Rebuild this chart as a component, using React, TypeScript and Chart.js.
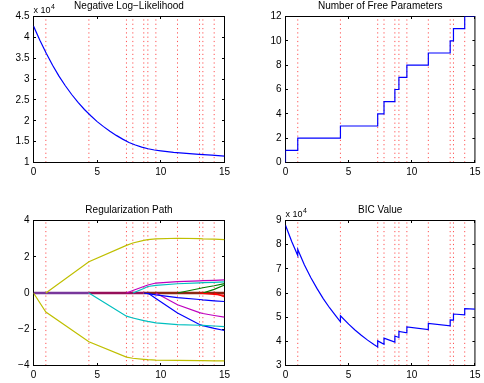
import React, { useEffect, useRef } from "react";
import { Chart, registerables } from "chart.js";

Chart.register(...registerables);

// ---------------- data ----------------
const breakpoints = [0, 0.97, 4.35, 7.3, 7.8, 8.66, 8.98, 9.61, 11.31, 13.04, 13.3, 14.19];
const xTicks = [0, 5, 10, 15];

// Negative log-likelihood
const nllX = [0, 0.5, 1, 1.5, 2, 2.5, 3, 3.5, 4, 4.5, 5, 5.5, 6, 6.5, 7, 7.5, 8, 8.5, 9, 9.5, 10, 11, 12, 13, 14, 15];
const nllY = [42700, 39300, 36200, 33300, 30700, 28400, 26300, 24400, 22700, 21200, 19800, 18600, 17500, 16500, 15600, 14800, 14200, 13700, 13300, 13000, 12800, 12450, 12200, 11950, 11750, 11550];
const nllTicks = [10000, 15000, 20000, 25000, 30000, 35000, 40000, 45000];

// Number of free parameters (value from each breakpoint on)
const paramX = [0, 0, 0.97, 4.35, 7.3, 7.8, 8.66, 8.98, 9.61, 11.31, 13.04, 13.3, 14.19, 15];
const paramY = [0, 1, 2, 3, 4, 5, 6, 7, 8, 9, 10, 11, 12, 12];
const paramTicks = [0, 2, 4, 6, 8, 10, 12];

// Regularization path (coefficients at each knot)
const pathX = [0, 0.97, 4.35, 7.3, 7.8, 8.66, 8.98, 9.61, 11.31, 13.04, 13.3, 14.19, 15];
const yellowLow = [0, -1.05, -2.69, -3.54, -3.6, -3.66, -3.68, -3.7, -3.72, -3.73, -3.73, -3.74, -3.74];
const yellowHigh = [0, 0, 1.72, 2.63, 2.76, 2.9, 2.94, 2.99, 3.02, 3.0, 2.99, 2.97, 2.94];
const cyanLow = [0, 0, 0, -1.28, -1.38, -1.52, -1.57, -1.65, -1.74, -1.78, -1.79, -1.82, -1.85];
const magentaHigh = [0, 0, 0, 0, 0.14, 0.36, 0.44, 0.55, 0.63, 0.67, 0.68, 0.7, 0.72];
const cyanHigh = [0, 0, 0, 0, 0, 0.25, 0.36, 0.42, 0.51, 0.56, 0.57, 0.59, 0.61];
const blueMild = [0, 0, 0, 0, 0, 0, -0.03, -0.1, -0.26, -0.36, -0.38, -0.43, -0.47];
const blueSteep = [0, 0, 0, 0, 0, 0, 0, -0.3, -1.1, -1.74, -1.8, -1.95, -2.07];
const magentaLow = [0, 0, 0, 0, 0, 0, 0, 0, -0.65, -1.08, -1.13, -1.24, -1.33];
const greenA = [0, 0, 0, 0, 0, 0, 0, 0, 0, 0.25, 0.29, 0.4, 0.52];
const redA = [0, 0, 0, 0, 0, 0, 0, 0, 0, 0, -0.02, -0.08, -0.13];
const greenB = [0, 0, 0, 0, 0, 0, 0, 0, 0, 0, 0, 0.2, 0.44];
const redB = [0, 0, 0, 0, 0, 0, 0, 0, 0, 0, 0, 0, -0.22];
const zeroSegments = [
  [0, 4.35],
  [4.35, 8.66],
  [8.66, 15],
];
const pathTicks = [-4, -2, 0, 2, 4];

// BIC value
const bicX = [0, 0.5, 0.97, 0.97, 1.5, 2, 2.5, 3, 3.5, 4, 4.35, 4.35, 5, 5.5, 6, 6.5, 7, 7.3, 7.3, 7.8, 7.8, 8.66, 8.66, 8.98, 8.98, 9.61, 9.61, 11.31, 11.31, 13.04, 13.04, 13.3, 13.3, 14.19, 14.19, 15];
const bicY = [88000, 81200, 75500, 78000, 71600, 66400, 61800, 57600, 53800, 50400, 48100, 50600, 47100, 44700, 42500, 40500, 38700, 37700, 40200, 38800, 41300, 39700, 42200, 41600, 44100, 43500, 46000, 44900, 47400, 46400, 48900, 48800, 51300, 51000, 53500, 53300];
const bicTicks = [30000, 40000, 50000, 60000, 70000, 80000, 90000];

// ---------------- styling / layout ----------------
const W = 484;
const H = 383;
const FONT = "'Liberation Sans', Arial, Helvetica, sans-serif";
const BLUE = "rgb(0,0,255)";

const pathSeries = [
  { v: yellowLow, c: "rgb(191,191,0)" },
  { v: yellowHigh, c: "rgb(191,191,0)" },
  { v: cyanLow, c: "rgb(0,191,191)" },
  { v: magentaHigh, c: "rgb(191,0,191)" },
  { v: cyanHigh, c: "rgb(0,191,191)" },
  { v: blueMild, c: "rgb(0,0,255)" },
  { v: blueSteep, c: "rgb(0,0,255)" },
  { v: magentaLow, c: "rgb(191,0,191)" },
  { v: greenA, c: "rgb(0,128,0)" },
  { v: redA, c: "rgb(255,0,0)" },
  { v: greenB, c: "rgb(0,128,0)" },
  { v: redB, c: "rgb(255,0,0)" },
];
const zeroColors = ["rgb(120,55,155)", "rgb(150,15,90)", "rgb(140,40,20)"];

type Area = { left: number; right: number; top: number; bottom: number };
const areaNll: Area = { left: 33.5, right: 224.5, top: 16.5, bottom: 162.5 };
const areaPar: Area = { left: 285.5, right: 476.5, top: 16.5, bottom: 162.5 };
const areaPath: Area = { left: 33.5, right: 224.5, top: 220.5, bottom: 365.5 };
const areaBic: Area = { left: 285.5, right: 476.5, top: 220.5, bottom: 365.5 };

const minus = (v: number) => (v < 0 ? "\u2212" + Math.abs(v) : String(v));
const sci4 = (v: number) => String(Math.round((v / 1e4) * 100) / 100);

const matlabPlugin = {
  id: "matlab",
  beforeDatasetsDraw(chart: any, _args: any, opts: any) {
    const { ctx, chartArea: a } = chart;
    const x = chart.scales.x;
    const y = chart.scales.y;
    ctx.save();
    // dotted red breakpoint lines
    ctx.strokeStyle = "rgba(255,40,40,0.8)";
    ctx.lineWidth = 1;
    ctx.setLineDash([1.2, 3.1]);
    for (const b of opts.lines as number[]) {
      const px = x.getPixelForValue(b);
      ctx.beginPath();
      ctx.moveTo(px, a.bottom);
      ctx.lineTo(px, a.top);
      ctx.stroke();
    }
    ctx.setLineDash([]);
    // box
    ctx.strokeStyle = "#000";
    ctx.lineWidth = 1;
    ctx.strokeRect(a.left, a.top, a.right - a.left, a.bottom - a.top);
    // inward ticks on all sides
    const tl = 2.5;
    ctx.beginPath();
    for (const t of x.ticks) {
      const px = Math.round(x.getPixelForValue(t.value) - 0.5) + 0.5;
      ctx.moveTo(px, a.bottom);
      ctx.lineTo(px, a.bottom - tl);
      ctx.moveTo(px, a.top);
      ctx.lineTo(px, a.top + tl);
    }
    for (const t of y.ticks) {
      const py = Math.round(y.getPixelForValue(t.value) - 0.5) + 0.5;
      ctx.moveTo(a.left, py);
      ctx.lineTo(a.left + tl, py);
      ctx.moveTo(a.right, py);
      ctx.lineTo(a.right - tl, py);
    }
    ctx.stroke();
    // title
    ctx.fillStyle = "#000";
    ctx.font = `10px ${FONT}`;
    ctx.textAlign = "center";
    ctx.textBaseline = "alphabetic";
    ctx.fillText(opts.title, (a.left + a.right) / 2, a.top - 8);
    // exponent label
    if (opts.exponent) {
      ctx.textAlign = "left";
      ctx.font = `9px ${FONT}`;
      ctx.fillText("x 10", a.left, a.top - 4);
      const w = ctx.measureText("x 10").width;
      ctx.font = `7px ${FONT}`;
      ctx.fillText(opts.exponent, a.left + w + 0.5, a.top - 8);
    }
    ctx.restore();
  },
};

function makeConfig(area: Area, datasets: any[], yMin: number, yMax: number, yTicks: number[], yFmt: (v: number) => string, title: string, exponent?: string) {
  const tickFont = { family: FONT, size: 10 };
  return {
    type: "line",
    data: { datasets },
    options: {
      animation: false,
      responsive: false,
      devicePixelRatio: 1,
      events: [],
      layout: { padding: { top: area.top, right: W - area.right, bottom: 0, left: 0 } },
      elements: { point: { radius: 0 }, line: { tension: 0 } },
      plugins: {
        legend: { display: false },
        tooltip: { enabled: false },
        title: { display: false },
        matlab: { title, exponent, lines: breakpoints },
      },
      scales: {
        x: {
          type: "linear",
          min: 0,
          max: 15,
          afterBuildTicks: (s: any) => {
            s.ticks = xTicks.map((v) => ({ value: v }));
          },
          afterFit: (s: any) => {
            s.height = H - area.bottom;
          },
          grid: { display: false, drawTicks: false },
          border: { display: false },
          ticks: { padding: 3.5, color: "#000", font: tickFont, maxRotation: 0, autoSkip: false, callback: (v: number) => String(v) },
        },
        y: {
          type: "linear",
          min: yMin,
          max: yMax,
          afterBuildTicks: (s: any) => {
            s.ticks = yTicks.map((v) => ({ value: v }));
          },
          afterFit: (s: any) => {
            s.width = area.left;
          },
          grid: { display: false, drawTicks: false },
          border: { display: false },
          ticks: { padding: 4, color: "#000", font: tickFont, autoSkip: false, callback: (v: number) => yFmt(v) },
        },
      },
    },
    plugins: [matlabPlugin],
  };
}

function lineDs(xs: number[], ys: number[], color: string, width = 1.2, extra: any = {}) {
  return {
    data: xs.map((x, i) => ({ x, y: ys[i] })),
    borderColor: color,
    backgroundColor: color,
    borderWidth: width,
    pointRadius: 0,
    fill: false,
    ...extra,
  };
}

function buildConfigs() {
  const nll = makeConfig(areaNll, [lineDs(nllX, nllY, BLUE)], 10000, 45000, nllTicks, sci4, "Negative Log\u2212Likelihood", "4");

  const par = makeConfig(areaPar, [lineDs(paramX, paramY, BLUE, 1.2, { stepped: "before" })], 0, 12, paramTicks, (v) => String(v), "Number of Free Parameters");

  const pathDs: any[] = [];
  for (const s of pathSeries) {
    const first = s.v.findIndex((v) => v !== 0);
    const start = Math.max(first - 1, 0);
    pathDs.push(lineDs(pathX.slice(start), s.v.slice(start), s.c, 1.2));
  }
  zeroSegments.forEach((seg, i) => {
    pathDs.push(lineDs(seg, [0, 0], zeroColors[i], 2.6));
  });
  const path = makeConfig(areaPath, pathDs, -4, 4, pathTicks, minus, "Regularization Path");

  const bic = makeConfig(areaBic, [lineDs(bicX, bicY, BLUE)], 30000, 90000, bicTicks, sci4, "BIC Value", "4");

  return [nll, par, path, bic];
}

export default function App() {
  const r0 = useRef<HTMLCanvasElement>(null);
  const r1 = useRef<HTMLCanvasElement>(null);
  const r2 = useRef<HTMLCanvasElement>(null);
  const r3 = useRef<HTMLCanvasElement>(null);
  const refs = [r0, r1, r2, r3];

  useEffect(() => {
    const cfgs = buildConfigs();
    const charts = cfgs.map((cfg, i) => new Chart(refs[i].current as HTMLCanvasElement, cfg as any));
    return () => charts.forEach((c) => c.destroy());
  }, []);

  return (
    <div style={{ position: "fixed", left: 0, top: 0, width: W, height: H, background: "#fff", overflow: "hidden" }}>
      {refs.map((r, i) => (
        <canvas key={i} ref={r} width={W} height={H} style={{ position: "absolute", left: 0, top: 0, width: W, height: H }} />
      ))}
    </div>
  );
}
